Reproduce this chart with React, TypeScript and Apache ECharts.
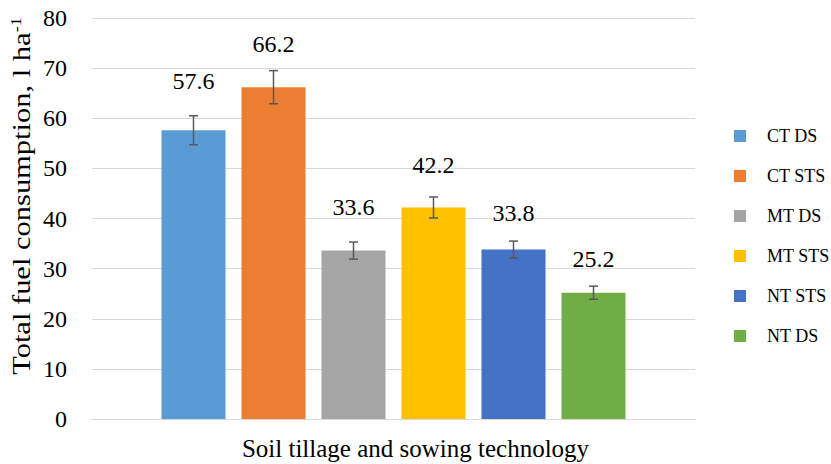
import React, { useEffect, useRef } from "react";
import * as echarts from "echarts";

const seriesNames = ["CT DS", "CT STS", "MT DS", "MT STS", "NT STS", "NT DS"];
const values = [57.6, 66.2, 33.6, 42.2, 33.8, 25.2];
const errors = [2.9, 3.3, 1.7, 2.1, 1.7, 1.3];
const colors = ["#5B9BD5", "#ED7D31", "#A5A5A5", "#FFC000", "#4472C4", "#70AD47"];
const labelDistances = [37, 31, 32, 30, 25, 22];
const categories = [""];
const yTicks = { min: 0, max: 80, interval: 10 };
const xTitle = "Soil tillage and sowing technology";

const FONT = "Liberation Serif";
const BAR_WIDTH = 64;
const BAR_GAP = "25%";

export default function App() {
  const ref = useRef<HTMLDivElement>(null);
  useEffect(() => {
    if (!ref.current) return;
    const chart = echarts.init(ref.current, undefined, { renderer: "svg" });
    const barSeries = seriesNames.map((name, i) => ({
      name,
      type: "bar",
      barWidth: BAR_WIDTH,
      barGap: BAR_GAP,
      itemStyle: { color: colors[i] },
      label: {
        show: true,
        position: "top",
        distance: labelDistances[i],
        fontFamily: FONT,
        fontSize: 24,
        color: "#000",
        formatter: (p: any) => Number(p.value).toFixed(1),
      },
      data: [values[i]],
      z: 2,
    }));
    const errData = values.map((v, i) => [0, v, errors[i], i]);
    const errSeries = {
      type: "custom",
      name: "err",
      z: 5,
      encode: { x: 0, y: 1 },
      data: errData,
      renderItem: (params: any, api: any) => {
        const layout = api.barLayout({ barWidth: BAR_WIDTH, barGap: BAR_GAP, count: seriesNames.length });
        const v = api.value(1);
        const e = api.value(2);
        const idx = api.value(3);
        const c = api.coord([0, v]);
        const x = c[0] + layout[idx].offsetCenter;
        const yTop = api.coord([0, v + e])[1];
        const yBot = api.coord([0, v - e])[1];
        const half = 4.5;
        const style = { stroke: "#595959", lineWidth: 1.5 };
        return {
          type: "group",
          children: [
            { type: "line", shape: { x1: x, y1: yTop, x2: x, y2: yBot }, style },
            { type: "line", shape: { x1: x - half, y1: yTop, x2: x + half, y2: yTop }, style },
            { type: "line", shape: { x1: x - half, y1: yBot, x2: x + half, y2: yBot }, style },
          ],
        };
      },
    };
    chart.setOption({
      animation: false,
      textStyle: { fontFamily: FONT },
      grid: { left: 92, right: 136, top: 18, bottom: 45, containLabel: false },
      legend: {
        data: seriesNames,
        orient: "vertical",
        left: 729,
        top: 122,
        itemWidth: 12,
        itemHeight: 12,
        itemGap: 22,
        icon: "rect",
        textStyle: { fontFamily: FONT, fontSize: 18, color: "#000", padding: [0, 0, 0, 16], lineHeight: 18 },
      },
      xAxis: {
        type: "category",
        data: categories,
        axisLine: { lineStyle: { color: "#D9D9D9", width: 1 } },
        axisTick: { show: false },
        axisLabel: { show: false },
      },
      yAxis: {
        type: "value",
        min: yTicks.min,
        max: yTicks.max,
        interval: yTicks.interval,
        axisLine: { show: false },
        axisTick: { show: false },
        splitLine: { lineStyle: { color: "#D9D9D9", width: 1 } },
        axisLabel: { fontFamily: FONT, fontSize: 24, color: "#000", margin: 25 },
      },
      graphic: [
        {
          type: "text",
          left: "center",
          top: 436,
          style: { text: xTitle, fontFamily: FONT, fontSize: 25, fill: "#000" },
        },
        {
          type: "text",
          x: 21,
          y: 196,
          rotation: Math.PI / 2,
          scaleX: 1.22,
          style: {
            text: "Total fuel consumption, l ha{sup|-1}",
            fontFamily: FONT,
            fontSize: 25,
            fill: "#000",
            align: "center",
            verticalAlign: "middle",
            rich: {
              sup: { fontSize: 15, fontFamily: FONT, verticalAlign: "top", padding: [0, 0, 10, 0], fill: "#000" },
            },
          },
        },
      ],
      series: [...barSeries, errSeries],
    });
    return () => chart.dispose();
  }, []);
  return <div ref={ref} style={{ width: 831, height: 464, position: "absolute", left: 0, top: 0 }} />;
}
